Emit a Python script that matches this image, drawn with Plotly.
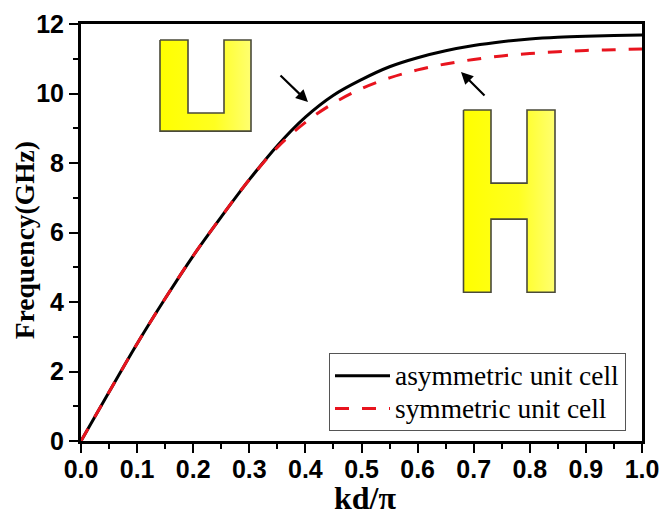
import plotly.graph_objects as go

kd = [0, .05, .1, .15, .2, .25, .3, .35, .4, .45, .5, .55, .6, .65, .7, .75, .8, .85, .9, .95, 1]
asym = [0, 1.41, 2.80, 4.10, 5.33, 6.45, 7.52, 8.5, 9.32, 9.95, 10.4, 10.77, 11.03, 11.23, 11.38, 11.49, 11.57, 11.62, 11.65, 11.67, 11.68]
sym = [0, 1.41, 2.80, 4.10, 5.33, 6.45, 7.52, 8.45, 9.17, 9.72, 10.14, 10.45, 10.68, 10.85, 10.98, 11.08, 11.15, 11.2, 11.24, 11.26, 11.28]
x_ticks = [0, .1, .2, .3, .4, .5, .6, .7, .8, .9, 1]
y_ticks = [0, 2, 4, 6, 8, 10, 12]
names = ["asymmetric unit cell", "symmetric unit cell"]

L, R, T, B = 81, 642, 24, 440.7
W, H = 664, 516
def px(p): return (p - L) / (R - L)
def py(p): return (B - p) / (B - T) * 12

u_x = [160, 188, 188, 224, 224, 251, 251, 160, 160]
u_y = [40, 40, 113, 113, 40, 40, 131, 131, 40]
h_x = [463.5, 491, 491, 527, 527, 555, 555, 527, 527, 491, 491, 463.5, 463.5]
h_y = [110, 110, 183, 183, 110, 110, 292, 292, 219, 219, 292, 292, 110]

fig = go.Figure()
grad = dict(type="horizontal", colorscale=[[0, "#ffff00"], [0.6, "#ffff20"], [1, "#ffff70"]])
for xs, ys in [(u_x, u_y), (h_x, h_y)]:
    fig.add_trace(go.Scatter(x=[px(v) for v in xs], y=[py(v) for v in ys], mode="lines", fill="toself",
                             fillgradient=grad, line=dict(color="#4a4a3a", width=1.6),
                             showlegend=False, hoverinfo="skip"))
LEG = '<span style="font-size:27.4px">%s</span>'
fig.add_trace(go.Scatter(x=kd, y=asym, mode="lines", name=LEG % names[0], line=dict(color="black", width=3, shape="spline")))
fig.add_trace(go.Scatter(x=kd, y=sym, mode="lines", name=LEG % names[1],
                         line=dict(color="#e8141e", width=3, dash="14px,13px", shape="spline")))

axis = dict(showgrid=False, zeroline=False, showline=True, linecolor="black", linewidth=3, mirror=True,
            ticks="outside", ticklen=9, tickwidth=2.2, tickcolor="black",
            tickfont=dict(family="Liberation Sans", size=25, color="black", weight="bold"))
minor = dict(ticks="outside", ticklen=5, tickwidth=2.2, tickcolor="black")
fig.update_xaxes(**axis, range=[0, 1], tickvals=x_ticks, tickformat=".1f", ticklabelstandoff=-5,
                 minor=dict(dtick=.05, **minor))
fig.update_yaxes(**axis, range=[0, 12], tickvals=y_ticks, minor=dict(dtick=1, **minor))

for (x0, y0, x1, y1) in [(279, 74, 308, 102), (486, 97, 461, 72)]:
    fig.add_annotation(x=px(x1), y=py(y1), ax=px(x0), ay=py(y0), xref="x", yref="y", axref="x", ayref="y",
                       text="", showarrow=True, arrowhead=2, arrowsize=1.1, arrowwidth=2.2, arrowcolor="black")
fig.add_annotation(x=(365 - L) / (R - L), y=(B - 498) / (B - T), xref="paper", yref="paper", showarrow=False,
                   xanchor="center", yanchor="middle",
                   text="<b>kd/π</b>", font=dict(family="Liberation Serif", size=32, color="black"))
fig.add_annotation(x=(24 - L) / (R - L), y=(B - 240) / (B - T), xref="paper", yref="paper", showarrow=False,
                   xanchor="center", yanchor="middle",
                   textangle=-90, text="<b>Frequency(GHz)</b>",
                   font=dict(family="Liberation Serif", size=27.5, color="black"))

fig.update_layout(width=W, height=H, margin=dict(l=L, r=W - R, t=T, b=H - B, autoexpand=False),
                  paper_bgcolor="white", plot_bgcolor="white",
                  legend=dict(x=(329 - L) / (R - L), y=py(353) / 12, xanchor="left", yanchor="top",
                              bgcolor="white", bordercolor="#555555", borderwidth=1,
                              font=dict(family="Liberation Serif", size=23, color="black"),
                              itemwidth=55, tracegroupgap=0, traceorder="normal"))
fig.write_html("out.html", post_script="document.body.style.margin='0';", config=dict(displayModeBar=False))
